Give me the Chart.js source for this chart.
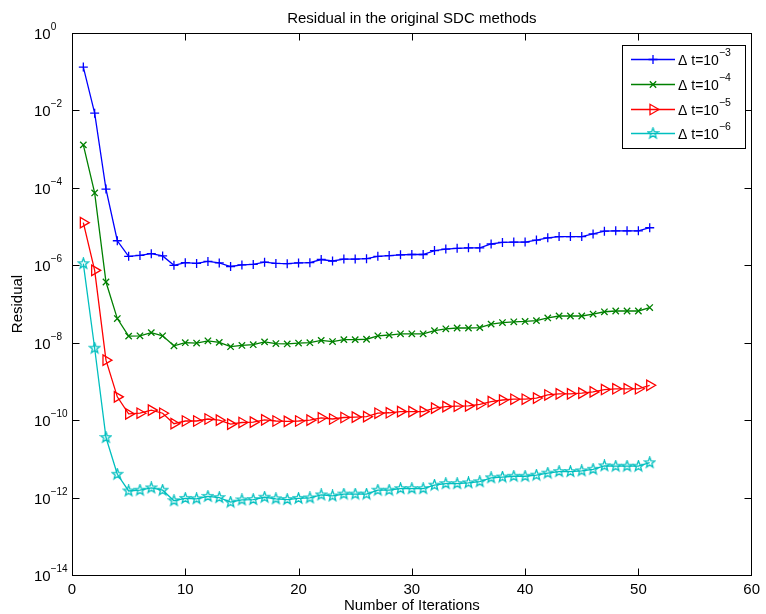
<!DOCTYPE html>
<html>
<head>
<meta charset="utf-8">
<title>Residual SDC</title>
<script src="https://cdn.jsdelivr.net/npm/chart.js@4.4.0/dist/chart.umd.min.js"></script>
<style>
  html, body { margin: 0; padding: 0; background: #fff; }
  #zone { width: 766px; height: 614px; }
</style>
</head>
<body>
<div id="zone"><canvas id="residuChart" width="766" height="614"></canvas></div>
<script>
// données : nombre d'itérations et résidu pour chaque pas de temps
const iterations = [1, 2, 3, 4, 5, 6, 7, 8, 9, 10, 11, 12, 13, 14, 15, 16, 17, 18, 19, 20,
  21, 22, 23, 24, 25, 26, 27, 28, 29, 30, 31, 32, 33, 34, 35, 36, 37, 38, 39, 40,
  41, 42, 43, 44, 45, 46, 47, 48, 49, 50, 51];

const residuDt3 = [1.32e-1, 8.5e-3, 9.3e-5, 4.3e-6, 1.7e-6, 1.8e-6, 2.0e-6, 1.74e-6, 1.0e-6, 1.17e-6,
  1.12e-6, 1.26e-6, 1.15e-6, 9.3e-7, 1.02e-6, 1.05e-6, 1.2e-6, 1.12e-6, 1.1e-6, 1.15e-6,
  1.17e-6, 1.41e-6, 1.29e-6, 1.45e-6, 1.45e-6, 1.48e-6, 1.7e-6, 1.78e-6, 1.86e-6, 1.9e-6,
  1.9e-6, 2.4e-6, 2.63e-6, 2.75e-6, 2.82e-6, 2.82e-6, 3.55e-6, 3.9e-6, 3.98e-6, 3.98e-6,
  4.47e-6, 5.13e-6, 5.5e-6, 5.5e-6, 5.5e-6, 6.46e-6, 7.59e-6, 7.76e-6, 7.76e-6, 7.76e-6,
  9.33e-6];

const residuDt4 = [1.29e-3, 7.4e-5, 3.7e-7, 4.2e-8, 1.48e-8, 1.51e-8, 1.82e-8, 1.51e-8, 8.3e-9, 1.0e-8,
  9.8e-9, 1.12e-8, 1.02e-8, 7.9e-9, 8.5e-9, 8.9e-9, 1.05e-8, 9.5e-9, 9.3e-9, 9.8e-9,
  1.0e-8, 1.15e-8, 1.07e-8, 1.2e-8, 1.2e-8, 1.23e-8, 1.51e-8, 1.58e-8, 1.7e-8, 1.7e-8,
  1.7e-8, 2.04e-8, 2.29e-8, 2.4e-8, 2.4e-8, 2.45e-8, 3.02e-8, 3.31e-8, 3.47e-8, 3.55e-8,
  3.72e-8, 4.37e-8, 4.9e-8, 4.9e-8, 4.9e-8, 5.5e-8, 6.3e-8, 6.6e-8, 6.6e-8, 6.6e-8,
  8.1e-8];

const residuDt5 = [1.26e-5, 7.4e-7, 3.55e-9, 4.0e-10, 1.45e-10, 1.51e-10, 1.82e-10, 1.51e-10, 8.1e-11, 9.5e-11,
  9.5e-11, 1.07e-10, 1.0e-10, 7.9e-11, 8.7e-11, 8.9e-11, 1.02e-10, 9.5e-11, 9.3e-11, 9.5e-11,
  1.0e-10, 1.15e-10, 1.07e-10, 1.17e-10, 1.2e-10, 1.23e-10, 1.51e-10, 1.55e-10, 1.66e-10, 1.66e-10,
  1.66e-10, 2.04e-10, 2.24e-10, 2.29e-10, 2.34e-10, 2.57e-10, 3.02e-10, 3.31e-10, 3.47e-10, 3.47e-10,
  3.72e-10, 4.47e-10, 4.79e-10, 4.79e-10, 5.0e-10, 5.37e-10, 6.17e-10, 6.46e-10, 6.46e-10, 6.46e-10,
  7.94e-10];

const residuDt6 = [1.1e-6, 7.2e-9, 3.55e-11, 4.0e-12, 1.48e-12, 1.55e-12, 1.78e-12, 1.55e-12, 8.3e-13, 9.5e-13,
  9.3e-13, 1.07e-12, 1.0e-12, 7.6e-13, 8.7e-13, 8.9e-13, 1.02e-12, 9.3e-13, 8.9e-13, 9.5e-13,
  9.8e-13, 1.17e-12, 1.1e-12, 1.23e-12, 1.23e-12, 1.23e-12, 1.55e-12, 1.55e-12, 1.7e-12, 1.7e-12,
  1.7e-12, 2.09e-12, 2.29e-12, 2.29e-12, 2.4e-12, 2.57e-12, 3.24e-12, 3.39e-12, 3.55e-12, 3.55e-12,
  3.8e-12, 4.27e-12, 4.68e-12, 4.68e-12, 4.9e-12, 5.37e-12, 6.6e-12, 6.46e-12, 6.46e-12, 6.46e-12,
  7.94e-12];

// graduations des axes et exposants de la légende
const xTicks = [0, 10, 20, 30, 40, 50, 60];
const yExposants = [0, -2, -4, -6, -8, -10, -12, -14];
const legendeExposants = ['\u22123', '\u22124', '\u22125', '\u22126'];

const POLICE = '"Liberation Sans", Arial, Helvetica, sans-serif';
const EPAISSEUR = 1.3;

// étoile à cinq branches utilisée comme marqueur
function creerEtoile(couleur){
    const c = document.createElement('canvas');
    c.width = 13;
    c.height = 13;
    const g = c.getContext('2d');
    g.strokeStyle = couleur;
    g.lineWidth = EPAISSEUR;
    g.beginPath();
    for(let i = 0; i < 10; i++){
        const r = (i % 2 === 0) ? 5.5 : 2.3;
        const a = -Math.PI / 2 + i * Math.PI / 5;
        const px = 6.5 + r * Math.cos(a);
        const py = 6.5 + r * Math.sin(a);
        if(i === 0) g.moveTo(px, py); else g.lineTo(px, py);
    }
    g.closePath();
    g.stroke();
    return c;
}

const etoileCyan = creerEtoile('#00bfbf');

//Function pour construire une série
function serie(label, valeurs, couleur, style, rayon, rotation){
    return {
        label: label,
        data: iterations.map((it, i) => ({ x: it, y: valeurs[i] })),
        borderColor: couleur,
        borderWidth: EPAISSEUR,
        tension: 0,
        fill: false,
        pointStyle: style,
        pointRadius: rayon,
        pointRotation: rotation || 0,
        pointBorderColor: couleur,
        pointBackgroundColor: 'rgba(0,0,0,0)',
        pointBorderWidth: EPAISSEUR
    };
}

const series = [
    serie('dt3', residuDt3, '#0000ff', 'cross', 4.5),
    serie('dt4', residuDt4, '#008000', 'crossRot', 4.5),
    serie('dt5', residuDt5, '#ff0000', 'triangle', 6, 90),
    serie('dt6', residuDt6, '#00bfbf', etoileCyan, 5)
];

// texte "10" avec un exposant
function puissance(ctx, base, exposant, x, y, taille, tailleExp){
    ctx.font = taille + 'px ' + POLICE;
    ctx.textAlign = 'left';
    ctx.textBaseline = 'alphabetic';
    ctx.fillText(base, x, y);
    const w = ctx.measureText(base).width;
    ctx.font = tailleExp + 'px ' + POLICE;
    ctx.fillText(exposant, x + w, y - 9);
}

// marqueur dessiné dans la légende
function marqueur(ctx, ds, x, y){
    ctx.save();
    ctx.strokeStyle = ds.pointBorderColor;
    ctx.fillStyle = 'rgba(0,0,0,0)';
    ctx.lineWidth = EPAISSEUR;
    Chart.helpers.drawPoint(ctx, {
        pointStyle: ds.pointStyle,
        rotation: ds.pointRotation,
        radius: ds.pointRadius,
        borderWidth: EPAISSEUR
    }, x, y);
    ctx.restore();
}

// cadre, graduations internes, titre et légende façon matlab
const cadrePlugin = {
    id: 'cadre',
    afterDraw(chart){
        const ctx = chart.ctx;
        const a = chart.chartArea;
        const sx = chart.scales.x;
        const sy = chart.scales.y;
        const L = Math.round(a.left) + 0.5;
        const R = Math.round(a.right) - 0.5;
        const T = Math.round(a.top) + 0.5;
        const B = Math.round(a.bottom) + 0.5;
        ctx.save();
        ctx.strokeStyle = '#000';
        ctx.fillStyle = '#000';
        ctx.lineWidth = 1;

        ctx.beginPath();
        xTicks.slice(1, -1).forEach(v => {
            const px = Math.round(sx.getPixelForValue(v)) + 0.5;
            ctx.moveTo(px, B); ctx.lineTo(px, B - 7);
            ctx.moveTo(px, T); ctx.lineTo(px, T + 7);
        });
        yExposants.slice(1, -1).forEach(e => {
            const py = Math.round(sy.getPixelForValue(Math.pow(10, e))) + 0.5;
            ctx.moveTo(L, py); ctx.lineTo(L + 7, py);
            ctx.moveTo(R, py); ctx.lineTo(R - 7, py);
        });
        ctx.stroke();
        ctx.strokeRect(L, T, R - L, B - T);

        // étiquettes de l'axe logarithmique
        yExposants.forEach(e => {
            const py = sy.getPixelForValue(Math.pow(10, e));
            const txt = e === 0 ? '0' : '\u2212' + Math.abs(e);
            puissance(ctx, '10', txt, 34, py + 6, 15, 10);
        });

        // titre
        ctx.font = '15px ' + POLICE;
        ctx.textAlign = 'center';
        ctx.textBaseline = 'alphabetic';
        ctx.fillText('Residual in the original SDC methods', (a.left + a.right) / 2, 23);

        // légende
        ctx.fillStyle = '#fff';
        ctx.fillRect(622.5, 45.5, 123, 103);
        ctx.strokeStyle = '#000';
        ctx.lineWidth = 1;
        ctx.strokeRect(622.5, 45.5, 123, 103);
        const lignes = [59, 84, 108.5, 133];
        chart.data.datasets.forEach((ds, i) => {
            const y = Math.round(lignes[i]) + 0.5;
            ctx.strokeStyle = ds.borderColor;
            ctx.lineWidth = EPAISSEUR;
            ctx.beginPath();
            ctx.moveTo(631, y);
            ctx.lineTo(675, y);
            ctx.stroke();
            marqueur(ctx, ds, 653, y);
            ctx.fillStyle = '#000';
            puissance(ctx, '\u0394 t=10', legendeExposants[i], 678, y + 5, 14, 10.5);
        });
        ctx.restore();
    }
};

const ctx1 = document.getElementById('residuChart').getContext('2d');
const residuChart = new Chart(ctx1, {
    type: 'line',
    data: { datasets: series },
    options: {
        responsive: false,
        animation: false,
        devicePixelRatio: 1,
        events: [],
        layout: { padding: { left: 0, right: 9, top: 33, bottom: 0 } },
        plugins: {
            legend: { display: false },
            title: { display: false },
            tooltip: { enabled: false }
        },
        scales: {
            x: {
                type: 'linear',
                min: 0,
                max: 60,
                afterBuildTicks: (scale) => { scale.ticks = xTicks.map(v => ({ value: v })); },
                afterFit: (scale) => { scale.height = 39; },
                ticks: { color: '#000', font: { family: POLICE, size: 15 }, padding: 6, maxRotation: 0, autoSkip: false },
                grid: { display: false, drawTicks: false },
                border: { display: false },
                title: {
                    display: true,
                    text: 'Number of Iterations',
                    color: '#000',
                    font: { family: POLICE, size: 15, lineHeight: 1.1 },
                    padding: 0
                }
            },
            y: {
                type: 'logarithmic',
                min: 1e-14,
                max: 1,
                afterBuildTicks: (scale) => { scale.ticks = yExposants.map(e => ({ value: Math.pow(10, e) })); },
                afterFit: (scale) => { scale.width = 72; },
                ticks: { display: false },
                grid: { display: false, drawTicks: false },
                border: { display: false },
                title: {
                    display: true,
                    text: 'Residual',
                    color: '#000',
                    font: { family: POLICE, size: 15 },
                    padding: { top: 9, bottom: 0 }
                }
            }
        }
    },
    plugins: [cadrePlugin]
});
</script>
</body>
</html>
